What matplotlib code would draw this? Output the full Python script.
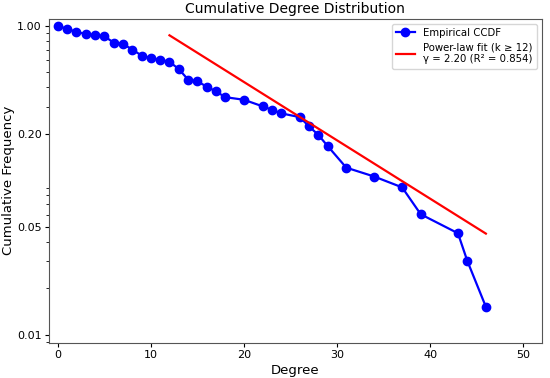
import matplotlib
matplotlib.use("Agg")
import matplotlib.pyplot as plt
import numpy as np
from matplotlib.ticker import FixedLocator, FixedFormatter, NullFormatter

degree = [0, 1, 2, 3, 4, 5, 6, 7, 8, 9, 10, 11, 12, 13, 14, 15, 16, 17, 18,
          20, 22, 23, 24, 26, 27, 28, 29, 31, 34, 37, 39, 43, 44, 46]
ccdf = [1.0, 0.96, 0.915, 0.888, 0.871, 0.858, 0.781, 0.766, 0.704, 0.644,
        0.620, 0.604, 0.587, 0.526, 0.450, 0.438, 0.405, 0.377, 0.346,
        0.333, 0.302, 0.287, 0.272, 0.257, 0.224, 0.197, 0.167, 0.121,
        0.106, 0.0902, 0.0604, 0.0455, 0.0302, 0.0152]

gamma = 2.20
r2 = 0.854
kmin = 12
fit_C = 206.0
k_fit = np.array([kmin, max(degree)], dtype=float)
y_fit = fit_C * k_fit ** (-gamma)

yticks = [0.01, 0.05, 0.20, 1.00]
ytick_labels = ["0.01", "0.05", "0.20", "1.00"]

fig = plt.figure(figsize=(5.5, 3.78), dpi=100)
ax = fig.add_axes([48.5/550, 1 - 342.7/378, (541.7-48.5)/550, (342.7-18.7)/378])
ax.plot(degree, ccdf, 'o-', color='blue', lw=1.6, markersize=6, label='Empirical CCDF')
ax.plot(k_fit, y_fit, '-', color='red', lw=1.6,
        label=f'Power-law fit (k ≥ {kmin})\nγ = {gamma:.2f} (R² = {r2:.3f})')
ax.set_yscale('log')
ax.set_xlim(-1, 52)
ax.set_ylim(0.0089, 1.115)
ax.yaxis.set_major_locator(FixedLocator(yticks))
ax.yaxis.set_major_formatter(FixedFormatter(ytick_labels))
ax.yaxis.set_minor_formatter(NullFormatter())
ax.set_xticks([0, 10, 20, 30, 40, 50])
ax.tick_params(labelsize=8, length=3, pad=2)
ax.tick_params(which='minor', length=2)
for s in ax.spines.values():
    s.set_color('#555555')
ax.set_xlabel('Degree', fontsize=9.5, labelpad=3)
ax.set_ylabel('Cumulative Frequency', fontsize=9.5, labelpad=1)
ax.set_title('Cumulative Degree Distribution', fontsize=10, pad=4)
ax.legend(loc='upper right', fontsize=7.3, handlelength=1.9)
fig.savefig('out.png', dpi=100)
